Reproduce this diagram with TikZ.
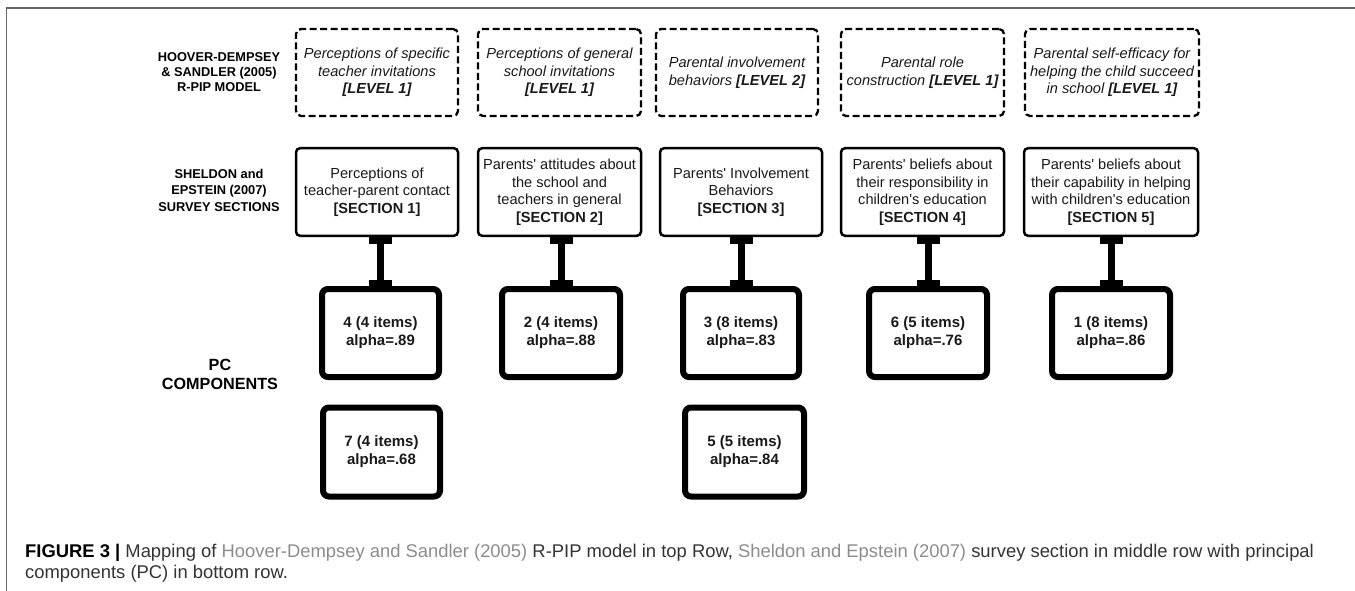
\documentclass[tikz,border=0pt]{standalone}
\usepackage{fontspec}
\setmainfont{Liberation Sans}
\usetikzlibrary{arrows.meta}
\definecolor{refgray}{HTML}{8C8C8C}
\definecolor{captext}{HTML}{333333}
\definecolor{framegray}{HTML}{666666}
\begin{document}
\begin{tikzpicture}[x=1pt,y=-1pt,
  rowlabel/.style={align=center,inner sep=0pt,font=\bfseries\fontsize{12.8}{15}\selectfont},
  dashbox/.style={draw,line width=2.3pt,dash pattern=on 7pt off 3.5pt,rounded corners=5pt,
    align=center,inner sep=0pt,minimum height=87pt,text=black!90,
    font=\itshape\fontsize{14.6}{17.5}\selectfont},
  secbox/.style={draw,line width=2.5pt,rounded corners=4pt,align=center,inner sep=0pt,
    minimum height=87.5pt,text=black!90,font=\fontsize{14.6}{17.5}\selectfont},
  pcbox/.style={draw,line width=6pt,rounded corners=6pt,align=center,inner sep=0pt,
    minimum height=88pt,text=black!90,font=\bfseries\fontsize{15}{18}\selectfont},
  link/.style={line width=7pt,
    {Rectangle[length=6.5pt,width=23pt,line width=0pt]}-{Rectangle[length=6.5pt,width=23pt,line width=0pt]}},
  captionline/.style={anchor=base west,inner sep=0pt,text=captext,font=\fontsize{18.4}{21}\selectfont}
]
\useasboundingbox (0,0) rectangle (1355,591);
% frame
\draw[line width=1.3pt,framegray] (1355,8) -- (6.5,8) -- (6.5,591);

% row labels
\node[rowlabel] (hd) at (219,72) {HOOVER-DEMPSEY\\\& SANDLER (2005)\\R-PIP MODEL};
\node[rowlabel,font=\bfseries\fontsize{12.8}{16.5}\selectfont] (se) at (219,190) {SHELDON and\\EPSTEIN (2007)\\SURVEY SECTIONS};
\node[rowlabel,font=\bfseries\fontsize{16.2}{19}\selectfont] (pc) at (220,374.5) {PC\\COMPONENTS};

% top row (dashed)
\node[dashbox,minimum width=162pt] (d1) at (377,72.5) {Perceptions of specific\\teacher invitations\\\textbf{[LEVEL 1]}};
\node[dashbox,minimum width=163pt] (d2) at (559.5,72.5) {Perceptions of general\\school invitations\\\textbf{[LEVEL 1]}};
\node[dashbox,minimum width=162pt] (d3) at (737,72.5) {Parental involvement\\behaviors \textbf{[LEVEL 2]}};
\node[dashbox,minimum width=163pt] (d4) at (922.5,72.5) {Parental role\\construction \textbf{[LEVEL 1]}};
\node[dashbox,minimum width=174pt] (d5) at (1112,72.5) {Parental self-efficacy for\\helping the child succeed\\in school \textbf{[LEVEL 1]}};

% middle row (sections)
\node[secbox,minimum width=162pt] (s1) at (377,192) {Perceptions of\\teacher-parent contact\\\textbf{[SECTION 1]}};
\node[secbox,minimum width=163pt] (s2) at (559.5,192) {Parents\textquotesingle{} attitudes about\\the school and\\teachers in general\\\textbf{[SECTION 2]}};
\node[secbox,minimum width=162pt] (s3) at (741,192) {Parents\textquotesingle{} Involvement\\Behaviors\\\textbf{[SECTION 3]}};
\node[secbox,minimum width=163pt] (s4) at (922.5,192) {Parents\textquotesingle{} beliefs about\\their responsibility in\\children\textquotesingle{}s education\\\textbf{[SECTION 4]}};
\node[secbox,minimum width=174pt] (s5) at (1111,192) {Parents\textquotesingle{} beliefs about\\their capability in helping\\with children\textquotesingle{}s education\\\textbf{[SECTION 5]}};

% PC components
\node[pcbox,minimum width=117pt] (p1) at (380.5,333) {4 (4 items)\\alpha=.89};
\node[pcbox,minimum width=118pt] (p2) at (561,333) {2 (4 items)\\alpha=.88};
\node[pcbox,minimum width=116pt] (p3) at (741,333) {3 (8 items)\\alpha=.83};
\node[pcbox,minimum width=118pt] (p4) at (928,333) {6 (5 items)\\alpha=.76};
\node[pcbox,minimum width=118pt] (p5) at (1111,333) {1 (8 items)\\alpha=.86};
\node[pcbox,minimum width=117pt,minimum height=89pt] (q1) at (381.5,452) {7 (4 items)\\alpha=.68};
\node[pcbox,minimum width=119pt,minimum height=89pt] (q3) at (744.5,452) {5 (5 items)\\alpha=.84};

% connectors
\foreach \s/\p in {s1/p1,s2/p2,s3/p3,s4/p4,s5/p5}
  \draw[link] (\s.south -| \p.north) -- (\p.north);

% caption
\node[captionline] (cap1) at (25,557) {\textcolor{black}{\textbf{FIGURE 3 |}} Mapping of \textcolor{refgray}{Hoover-Dempsey and Sandler (2005)} R-PIP model in top Row, \textcolor{refgray}{Sheldon and Epstein (2007)} survey section in middle row with principal};
\node[captionline] (cap2) at (25,578) {components (PC) in bottom row.};
\end{tikzpicture}
\end{document}
